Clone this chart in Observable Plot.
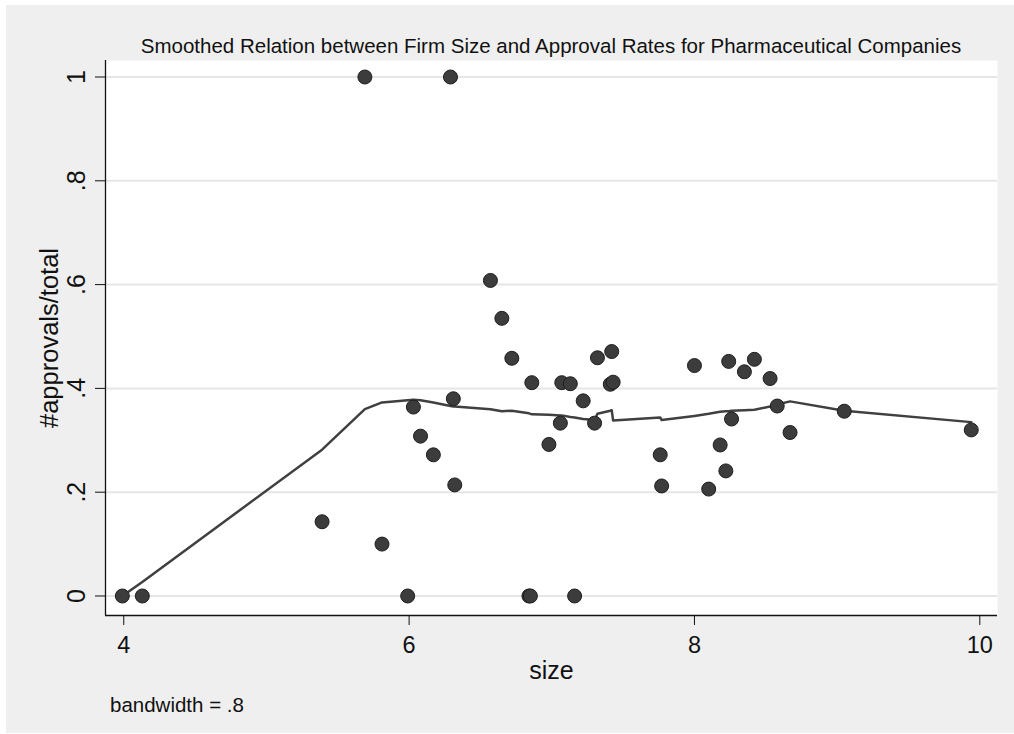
<!DOCTYPE html>
<html>
<head>
<meta charset="utf-8">
<script src="https://cdn.jsdelivr.net/npm/d3@7"></script>
<script src="https://cdn.jsdelivr.net/npm/@observablehq/plot@0.6"></script>
<style>
  html, body { margin: 0; padding: 0; background: #ffffff; width: 1014px; height: 734px; overflow: hidden; }
  #bg { position: absolute; left: 6px; top: 5px; width: 1008px; height: 728px; background: #efefef; }
  #chart { position: absolute; left: 0; top: 0; }
  .txt { position: absolute; font-family: "Liberation Sans", Arial, Helvetica, sans-serif; color: #111; line-height: 1; white-space: nowrap; }
  #title { left: 105px; width: 892px; text-align: center; top: 35.5px; font-size: 20.5px; }
  #caption { left: 110px; top: 694.5px; font-size: 20.5px; }
</style>
</head>
<body>
<div id="bg"></div>
<div id="chart"></div>
<div id="title" class="txt">Smoothed Relation between Firm Size and Approval Rates for Pharmaceutical Companies</div>
<div id="caption" class="txt">bandwidth = .8</div>
<script>
// firm size (x) and approval rate (y), sorted by size
const sizes = [3.99, 4.13, 5.39, 5.69, 5.81, 5.99, 6.03, 6.08, 6.17, 6.29, 6.31, 6.32, 6.57, 6.65, 6.72,
  6.84, 6.85, 6.86, 6.98, 7.06, 7.07, 7.13, 7.16, 7.22, 7.30, 7.32, 7.41, 7.42, 7.43, 7.76, 7.77,
  8.00, 8.10, 8.18, 8.22, 8.24, 8.26, 8.35, 8.42, 8.53, 8.58, 8.67, 9.05, 9.94];
const rates = [0, 0, 0.143, 1.0, 0.100, 0, 0.364, 0.308, 0.272, 1.0, 0.380, 0.214, 0.608, 0.535, 0.458,
  0, 0, 0.411, 0.292, 0.333, 0.411, 0.409, 0, 0.376, 0.333, 0.459, 0.408, 0.471, 0.412, 0.272, 0.212,
  0.444, 0.206, 0.291, 0.241, 0.452, 0.341, 0.432, 0.456, 0.419, 0.366, 0.315, 0.356, 0.320];
// lowess smoothed value at each size
const smoothed = [0.0, 0.027, 0.282, 0.360, 0.373, 0.377, 0.378, 0.377, 0.373, 0.366, 0.365, 0.365, 0.360, 0.356, 0.357,
  0.352, 0.351, 0.350, 0.349, 0.348, 0.348, 0.345, 0.344, 0.341, 0.339, 0.351, 0.357, 0.358, 0.338, 0.344, 0.339,
  0.347, 0.351, 0.355, 0.356, 0.356, 0.357, 0.358, 0.359, 0.365, 0.369, 0.375, 0.357, 0.335];

const xTicks = [4, 6, 8, 10];
const xTickLabels = ["4", "6", "8", "10"];
const yTicks = [0, 0.2, 0.4, 0.6, 0.8, 1];
const yTickLabels = ["0", ".2", ".4", ".6", ".8", "1"];
const xDomain = [3.872, 10.124];
const yDomain = [-0.0376, 1.0318];

const pts = sizes.map((s, i) => ({size: s, rate: rates[i], smooth: smoothed[i]}));
const yTickRows = yTicks.map((v, i) => ({v, label: yTickLabels[i]}));

const FONT = "Liberation Sans, Arial, Helvetica, sans-serif";

const chart = Plot.plot({
  width: 1014,
  height: 734,
  marginLeft: 105,
  marginRight: 17,
  marginTop: 60,
  marginBottom: 119,
  style: {background: "transparent", fontFamily: FONT, color: "#111"},
  x: {domain: xDomain},
  y: {domain: yDomain},
  marks: [
    Plot.frame({fill: "white", stroke: "none"}),
    Plot.gridY(yTicks, {stroke: "#e6e6e6", strokeOpacity: 1, strokeWidth: 2}),
    Plot.ruleX([xDomain[0]], {stroke: "#111", strokeWidth: 1.3}),
    Plot.ruleY([yDomain[0]], {stroke: "#111", strokeWidth: 1.3}),
    Plot.axisY({ticks: yTicks, tickSize: 10, tickFormat: () => "", label: null, stroke: "#111"}),
    Plot.text(yTickRows, {y: "v", text: "label", frameAnchor: "left", dx: -29, rotate: -90,
      fontSize: 25, lineAnchor: "middle", textAnchor: "middle", fill: "#111"}),
    Plot.axisX({ticks: xTicks, tickSize: 10, tickPadding: 11, fontSize: 23.5, label: null,
      tickFormat: (d) => xTickLabels[xTicks.indexOf(d)], stroke: "#111", fill: "#111"}),
    Plot.text(["size"], {frameAnchor: "bottom", dy: 55, fontSize: 25, lineAnchor: "middle", fill: "#111"}),
    Plot.text(["#approvals/total"], {frameAnchor: "left", dx: -56, rotate: -90, fontSize: 25.5,
      lineAnchor: "middle", textAnchor: "middle", fill: "#111"}),
    Plot.line(pts, {x: "size", y: "smooth", stroke: "#404040", strokeWidth: 2.5}),
    Plot.dot(pts, {x: "size", y: "rate", r: 7, fill: "#3c3c3c", stroke: "#1e1e1e", strokeWidth: 1})
  ]
});
document.getElementById("chart").appendChild(chart);
</script>
</body>
</html>
